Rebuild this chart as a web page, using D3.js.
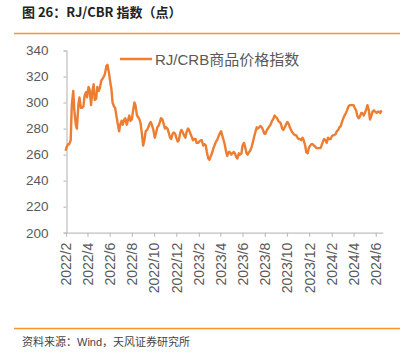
<!DOCTYPE html>
<html>
<head>
<meta charset="utf-8">
<script src="https://cdn.jsdelivr.net/npm/d3@7"></script>
<style>
  body { margin: 0; background: #fff; }
  svg { display: block; }
</style>
</head>
<body>
<div id="chart"></div>
<script>
// Readings of the RJ/CRB index, twice a week (Monday and Thursday)
var mondays = [
  "2022-01-31","2022-02-07","2022-02-14","2022-02-21","2022-02-28","2022-03-07","2022-03-14","2022-03-21","2022-03-28",
  "2022-04-04","2022-04-11","2022-04-18","2022-04-25","2022-05-02","2022-05-09","2022-05-16","2022-05-23","2022-05-30",
  "2022-06-06","2022-06-13","2022-06-20","2022-06-27","2022-07-04","2022-07-11","2022-07-18","2022-07-25",
  "2022-08-01","2022-08-08","2022-08-15","2022-08-22","2022-08-29","2022-09-05","2022-09-12","2022-09-19","2022-09-26",
  "2022-10-03","2022-10-10","2022-10-17","2022-10-24","2022-10-31","2022-11-07","2022-11-14","2022-11-21","2022-11-28",
  "2022-12-05","2022-12-12","2022-12-19","2022-12-26",
  "2023-01-02","2023-01-09","2023-01-16","2023-01-23","2023-01-30","2023-02-06","2023-02-13","2023-02-20","2023-02-27",
  "2023-03-06","2023-03-13","2023-03-20","2023-03-27","2023-04-03","2023-04-10","2023-04-17","2023-04-24",
  "2023-05-01","2023-05-08","2023-05-15","2023-05-22","2023-05-29","2023-06-05","2023-06-12","2023-06-19","2023-06-26",
  "2023-07-03","2023-07-10","2023-07-17","2023-07-24","2023-07-31","2023-08-07","2023-08-14","2023-08-21","2023-08-28",
  "2023-09-04","2023-09-11","2023-09-18","2023-09-25","2023-10-02","2023-10-09","2023-10-16","2023-10-23","2023-10-30",
  "2023-11-06","2023-11-13","2023-11-20","2023-11-27","2023-12-04","2023-12-11","2023-12-18","2023-12-25",
  "2024-01-01","2024-01-08","2024-01-15","2024-01-22","2024-01-29","2024-02-05","2024-02-12","2024-02-19","2024-02-26",
  "2024-03-04","2024-03-11","2024-03-18","2024-03-25","2024-04-01","2024-04-08","2024-04-15","2024-04-22","2024-04-29",
  "2024-05-06","2024-05-13","2024-05-20","2024-05-27","2024-06-03","2024-06-10","2024-06-17"
];
var mondayValues = [
  263, 268, 271, 309, 283, 298, 296, 297, 308,
  312, 298, 314, 303, 309, 317, 320, 328, 323,
  310, 297, 289, 278, 286, 287, 283, 290,
  287, 300, 290, 287, 275, 272, 279, 284, 282,
  273, 281, 285, 287, 280, 280, 273, 276, 276,
  270, 277, 277, 273,
  280, 276, 271, 272, 269, 271, 267, 267, 257,
  259, 265, 270, 274, 278, 271, 262, 262,
  260, 262, 258, 261, 261, 269, 261, 262, 266,
  274, 281, 281, 281, 276, 279, 282, 286, 290,
  288, 285, 280, 281, 285, 281, 277, 275, 273,
  272, 273, 267, 261, 267, 268, 266, 265,
  265, 270, 271, 273, 272, 275, 276, 279, 282,
  288, 292, 297, 298, 298, 294, 288, 292, 290,
  295, 294, 290, 294, 292, 293, 294
];
// Thursday of the same week (last week has no Thursday reading)
var thursdayValues = [
  266, 268, 298, 294, 280, 304, 296, 305, 304,
  310, 308, 302, 312, 311, 318, 322, 329, 317,
  300, 296, 284, 283, 283, 288, 286, 286,
  293, 298, 289, 284, 267, 278, 281, 285, 279,
  276, 282, 288, 284, 281, 277, 272, 277, 273,
  271, 279, 275, 277,
  279, 274, 272, 269, 270, 271, 268, 262, 256,
  261, 267, 271, 276, 275, 268, 259, 262,
  261, 261, 257, 260, 267, 266, 260, 263, 269,
  277, 280, 282, 279, 276, 280, 283, 287, 289,
  286, 284, 279, 283, 284, 279, 276, 275, 272,
  271, 271, 262, 265, 268, 267, 265, 265,
  267, 272, 269, 272, 274, 275, 278, 281, 285,
  290, 294, 298, 298, 296, 290, 289, 292, 292,
  298, 287, 293, 293, 293, 292
];
var yTicks = [200, 220, 240, 260, 280, 300, 320, 340];
var xTickDates = [
  "2022-02-01","2022-04-01","2022-06-01","2022-08-01","2022-10-01","2022-12-01",
  "2023-02-01","2023-04-01","2023-06-01","2023-08-01","2023-10-01","2023-12-01",
  "2024-02-01","2024-04-01","2024-06-01"
];
var seriesName = "RJ/CRB商品价格指数";
var title = "图 26：RJ/CBR 指数（点）";
var source = "资料来源：Wind，天风证券研究所";

var parse = d3.timeParse("%Y-%m-%d");
var data = [];
mondays.forEach(function(d, i) {
  var day = parse(d);
  data.push({date: day, value: mondayValues[i]});
  if (i < thursdayValues.length) {
    data.push({date: d3.timeDay.offset(day, 3), value: thursdayValues[i]});
  }
});

var width = 413, height = 354;
var orange = "#ED7D31";
var axisColor = "#BFBFBF";
var labelColor = "#595959";
var font = "'Liberation Sans', Arial, sans-serif";
var mixed = "'Liberation Sans', 'Noto Sans CJK SC', sans-serif";
var cjk = "'Noto Sans CJK SC', 'Noto Sans', sans-serif";

var svg = d3.select("#chart")
  .append("svg")
    .attr("width", width)
    .attr("height", height);

// Title and rules
svg.append("text")
    .attr("x", 22)
    .attr("y", 17)
    .attr("font-family", cjk)
    .attr("font-weight", "bold")
    .attr("font-size", 13)
    .attr("fill", "#222")
    .text(title);

svg.append("line")
    .attr("x1", 14).attr("x2", 400)
    .attr("y1", 33.5).attr("y2", 33.5)
    .attr("stroke", "#F7942F")
    .attr("stroke-width", 1.5);

svg.append("line")
    .attr("x1", 14).attr("x2", 400)
    .attr("y1", 328.5).attr("y2", 328.5)
    .attr("stroke", "#F7942F")
    .attr("stroke-width", 1.5);

svg.append("text")
    .attr("x", 22)
    .attr("y", 346)
    .attr("font-family", mixed)
    .attr("font-size", 11)
    .attr("fill", "#444")
    .text(source);

// Scales
var x = d3.scaleTime()
    .domain([parse("2022-01-31"), parse("2024-06-20")])
    .range([65.6, 382.7]);

var y = d3.scaleLinear()
    .domain([200, 340])
    .range([232.7, 50.5]);

// Y axis
var yAxis = svg.append("g")
    .attr("transform", "translate(66.5,0)")
    .call(d3.axisLeft(y).tickValues(yTicks).tickSize(3).tickPadding(15));
yAxis.select(".domain").attr("stroke", axisColor).attr("stroke-width", 1.2);
yAxis.selectAll(".tick line").attr("stroke", axisColor).attr("stroke-width", 1.2);
yAxis.selectAll(".tick text")
    .attr("fill", labelColor)
    .attr("font-family", font)
    .attr("font-size", 13.5);

// X axis
var xAxis = svg.append("g")
    .attr("transform", "translate(0,232.7)")
    .call(d3.axisBottom(x)
      .tickValues(xTickDates.map(parse))
      .tickSize(4)
      .tickSizeOuter(0)
      .tickFormat(d3.timeFormat("%Y/%-m")));
xAxis.select(".domain").attr("stroke", axisColor).attr("stroke-width", 1.2);
xAxis.selectAll(".tick line").attr("stroke", axisColor).attr("stroke-width", 1.2);
xAxis.selectAll(".tick text")
    .attr("fill", labelColor)
    .attr("font-family", font)
    .attr("font-size", 14)
    .attr("text-anchor", "end")
    .attr("transform", "rotate(-90)")
    .attr("x", -10)
    .attr("y", 0)
    .attr("dy", "0.35em");

// Line
var line = d3.line()
    .x(function(d) { return x(d.date); })
    .y(function(d) { return y(d.value); });

svg.append("path")
    .datum(data)
    .attr("fill", "none")
    .attr("stroke", orange)
    .attr("stroke-width", 2.4)
    .attr("stroke-linejoin", "round")
    .attr("d", line);

// Legend
svg.append("line")
    .attr("x1", 120).attr("x2", 152)
    .attr("y1", 59).attr("y2", 59)
    .attr("stroke", orange)
    .attr("stroke-width", 2.5);

svg.append("text")
    .attr("x", 155)
    .attr("y", 64.5)
    .attr("font-family", mixed)
    .attr("font-size", 15)
    .attr("fill", labelColor)
    .text(seriesName);
</script>
</body>
</html>
